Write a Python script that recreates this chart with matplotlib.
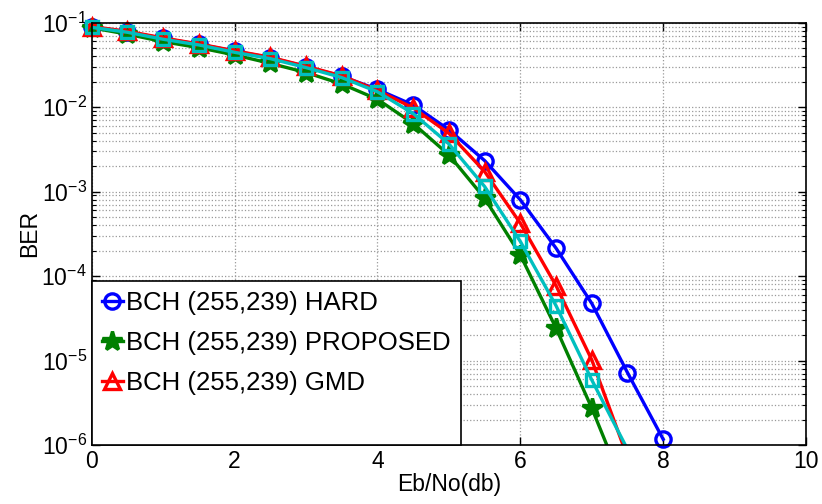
import matplotlib
matplotlib.use('Agg')
import matplotlib.pyplot as plt
from matplotlib.lines import Line2D

plt.rcParams['font.family'] = ['Liberation Sans', 'DejaVu Sans']
plt.rcParams['mathtext.fontset'] = 'custom'
plt.rcParams['mathtext.rm'] = 'Liberation Sans'
plt.rcParams['mathtext.it'] = 'Liberation Sans:italic'

# Eb/No (dB) values
ebno = [0, 0.5, 1, 1.5, 2, 2.5, 3, 3.5, 4, 4.5, 5, 5.5, 6, 6.5, 7, 7.5, 8]

ber_hard = [0.089, 0.078, 0.065, 0.0555, 0.046, 0.0385, 0.0302, 0.0232, 0.0162,
            0.0106, 0.0054, 0.00233, 0.0008, 0.000214, 4.75e-5, 7.2e-6, 1.17e-6]
ber_proposed = [0.087, 0.073, 0.0596, 0.0506, 0.0415, 0.033, 0.0257, 0.0188, 0.0124,
                0.0064, 0.00272, 0.000836, 0.000178, 2.42e-5, 2.74e-6, 2.5e-7]
ber_gmd = [0.09, 0.079, 0.066, 0.056, 0.0465, 0.039, 0.0305, 0.0235, 0.0158,
           0.0098, 0.0049, 0.00173, 0.000423, 7.7e-5, 1.02e-5, 7.2e-7]
ber_other = [0.088, 0.077, 0.0636, 0.0545, 0.0446, 0.0375, 0.0294, 0.0224, 0.0152,
             0.0084, 0.00367, 0.00115, 0.000257, 4.46e-5, 5.9e-6, 8.9e-7]

labels = ['BCH (255,239) HARD', 'BCH (255,239) PROPOSED', 'BCH (255,239) GMD']

series = [
    (ber_hard, 'blue', 'o', 11, 'none'),
    (ber_proposed, 'green', '*', 15, 'green'),
    (ber_gmd, 'red', '^', 11, 'none'),
    (ber_other, (0, 0.75, 0.75), 's', 9, 'none'),
]

fig = plt.figure(figsize=(8.22, 5.04), dpi=100)
ax = fig.add_axes([0.1116, 0.117, 0.869, 0.838])

ymin, ymax = 1e-6, 1e-1
handles = []
for y, col, mk, ms, fc in series:
    x = ebno[:len(y)]
    ax.plot(x, y, color=col, lw=2.4)
    # like MATLAB: only markers whose centre lies inside the axes, not clipped
    idx = [i for i, v in enumerate(y) if ymin <= v <= ymax * 1.2]
    ax.plot([x[i] for i in idx], [y[i] for i in idx], ls='none', marker=mk, ms=ms,
            mfc=fc, mec=col, mew=2.4, clip_on=False)
    handles.append(Line2D([], [], color=col, lw=2.4, marker=mk, ms=ms, mfc=fc,
                          mec=col, mew=2.4))

ax.set_yscale('log')
ax.set_xlim(0, 10)
ax.set_ylim(ymin, ymax)
ax.set_xticks([0, 2, 4, 6, 8, 10])
ax.grid(True, which='major', ls=':', color='#999999', lw=0.9)
ax.grid(True, which='minor', axis='y', ls=':', color='#999999', lw=0.9)
ax.tick_params(which='both', direction='in', top=True, right=True, labelsize=16.5)
ax.tick_params(which='major', length=6, width=1)
ax.tick_params(which='minor', length=3, width=0.8)
for s in ax.spines.values():
    s.set_linewidth(1.2)

ax.set_xlabel('Eb/No(db)', fontsize=16.5, labelpad=0)
ax.set_ylabel('BER', fontsize=16.5, labelpad=0)

leg_handles = handles[:3] + [Line2D([], [], ls='none')]
leg = ax.legend(leg_handles, labels + [' '], loc='lower left', fontsize=18.5,
                frameon=True, fancybox=False, edgecolor='black', framealpha=1,
                borderaxespad=0, handlelength=0.8, handletextpad=0.15,
                borderpad=0.4, labelspacing=0.62)
leg.get_frame().set_linewidth(1.2)

fig.savefig('out.png', dpi=100)
